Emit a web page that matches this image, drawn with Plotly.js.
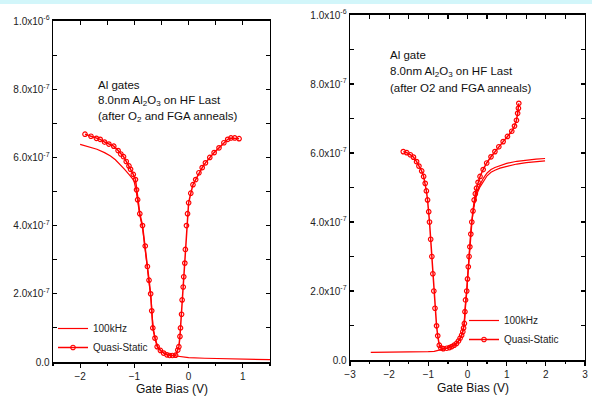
<!DOCTYPE html>
<html>
<head>
<meta charset="utf-8">
<script src="https://cdn.plot.ly/plotly-3.0.1.min.js"></script>
<style>html,body{margin:0;padding:0;background:#fff;}#chart{width:592px;height:398px;}</style>
</head>
<body>
<div id="chart"></div>
<script>
// Capacitance values are in units of 1e-7 F
// ---- Left panel: "Al gates" ----
const leftQsBias = [-1.91,-1.80,-1.70,-1.63,-1.55,-1.47,-1.38,-1.30,-1.25,-1.20,-1.15,-1.10,-1.07,-1.02,-0.98,-0.96,-0.94,-0.90,-0.85,-0.80,-0.76,-0.73,-0.70,-0.68,-0.66,-0.62,-0.58,-0.52,-0.46,-0.40,-0.35,-0.30,-0.24,-0.20,-0.18,-0.16,-0.15,-0.13,-0.12,-0.10,-0.09,-0.07,-0.06,-0.04,-0.02,0.00,0.04,0.08,0.13,0.19,0.25,0.31,0.39,0.47,0.56,0.65,0.72,0.78,0.85,0.93];
const leftQsCap  = [6.68,6.62,6.56,6.53,6.45,6.39,6.33,6.20,6.10,6.02,5.88,5.75,5.65,5.50,5.35,5.05,4.76,4.35,4.00,3.40,2.80,2.40,2.00,1.50,1.00,0.70,0.45,0.34,0.26,0.21,0.19,0.19,0.20,0.35,0.45,0.75,1.00,1.40,1.82,2.20,2.50,2.90,3.30,4.00,4.35,4.67,4.95,5.20,5.35,5.55,5.70,5.84,6.00,6.14,6.28,6.43,6.53,6.57,6.57,6.55];
const leftHfBias = [-2.00,-1.85,-1.69,-1.55,-1.44,-1.35,-1.26,-1.18,-1.10,-1.01,-0.97,-0.94,-0.90,-0.85,-0.80,-0.76,-0.72,-0.69,-0.67,-0.65,-0.61,-0.56,-0.50,-0.44,-0.38,-0.30,-0.20,0.00,0.30,0.60,1.00,1.30,1.50];
const leftHfCap  = [6.38,6.31,6.24,6.14,6.04,5.93,5.79,5.65,5.50,5.33,5.05,4.70,4.30,3.95,3.35,2.75,2.20,1.80,1.30,0.95,0.65,0.42,0.31,0.25,0.21,0.19,0.17,0.13,0.11,0.10,0.09,0.08,0.07];

// ---- Right panel: "Al gate" ----
const rightQsBias = [-1.64,-1.55,-1.46,-1.38,-1.30,-1.24,-1.17,-1.12,-1.08,-1.05,-1.02,-0.99,-0.97,-0.94,-0.91,-0.885,-0.86,-0.83,-0.79,-0.76,-0.72,-0.68,-0.62,-0.53,-0.46,-0.40,-0.34,-0.28,-0.23,-0.19,-0.15,-0.12,-0.10,-0.08,-0.065,-0.05,-0.02,0.00,0.02,0.04,0.06,0.085,0.11,0.14,0.17,0.20,0.23,0.27,0.32,0.40,0.49,0.60,0.70,0.80,0.91,1.02,1.13,1.20,1.25,1.28,1.30,1.31];
const rightQsCap  = [6.04,6.01,5.95,5.88,5.75,5.62,5.48,5.32,5.12,4.90,4.64,4.30,4.00,3.50,3.00,2.50,2.00,1.50,0.99,0.70,0.43,0.35,0.33,0.34,0.36,0.39,0.43,0.48,0.55,0.63,0.72,0.82,0.93,1.06,1.40,1.74,2.00,2.35,2.70,3.00,3.28,3.65,4.00,4.32,4.64,4.82,4.98,5.15,5.32,5.52,5.71,5.89,6.04,6.18,6.33,6.48,6.63,6.78,6.95,7.15,7.30,7.44];
const rightHfBias = [-2.47,-2.00,-1.50,-1.00,-0.85,-0.72,-0.62,-0.50,-0.40,-0.30,-0.20,-0.14,-0.10,-0.07,-0.045,-0.015,0.01,0.035,0.06,0.09,0.12,0.16,0.20,0.25,0.32,0.40,0.50,0.60,0.70,0.83,1.00,1.26,1.50,1.75,1.98];
const rightHfCap  = [0.22,0.22,0.23,0.24,0.25,0.28,0.31,0.35,0.40,0.47,0.58,0.75,0.95,1.25,1.74,2.00,2.50,3.00,3.40,3.80,4.10,4.50,4.72,4.92,5.10,5.26,5.42,5.52,5.58,5.64,5.70,5.76,5.80,5.82,5.84];
const rightHfRevBias = [1.98,1.75,1.50,1.26,1.00,0.83,0.70,0.60,0.50,0.40,0.32,0.25,0.20,0.16];
const rightHfRevCap  = [5.77,5.75,5.72,5.68,5.62,5.56,5.50,5.44,5.34,5.18,5.02,4.84,4.66,4.45];

const capTickVals = [0,2,4,6,8,10];
const capTickText = ['0.0','2.0x10<sup>-7</sup>','4.0x10<sup>-7</sup>','6.0x10<sup>-7</sup>','8.0x10<sup>-7</sup>','1.0x10<sup>-6</sup>'];
const capMinorVals = [1,3,5,7,9];
const leftBiasTicks = [-2,-1,0,1];
const rightBiasTicks = [-3,-2,-1,0,1,2,3];

const RED = 'rgb(255,0,0)';
const FONT = 'Liberation Sans, Arial, sans-serif';

function qs(x, y, xa, ya, leg) {
  return {x: x, y: y, xaxis: xa, yaxis: ya, type: 'scatter', mode: 'lines+markers', name: 'Quasi-Static',
    legend: leg, line: {color: RED, width: 1.5},
    marker: {symbol: 'circle-open', size: 4.5, color: RED, line: {color: RED, width: 1.2}}};
}
function hf(x, y, xa, ya, leg, show) {
  return {x: x, y: y, xaxis: xa, yaxis: ya, type: 'scatter', mode: 'lines', name: '100kHz',
    legend: leg, showlegend: show, line: {color: RED, width: 1.2}};
}

const traces = [
  hf(leftHfBias, leftHfCap, 'x', 'y', 'legend', true),
  qs(leftQsBias, leftQsCap, 'x', 'y', 'legend'),
  hf(rightHfBias, rightHfCap, 'x2', 'y2', 'legend2', true),
  hf(rightHfRevBias, rightHfRevCap, 'x2', 'y2', 'legend2', false),
  qs(rightQsBias, rightQsCap, 'x2', 'y2', 'legend2'),
  {x: [], y: [], xaxis: 'x3', yaxis: 'y', showlegend: false, type: 'scatter'},
  {x: [], y: [], xaxis: 'x4', yaxis: 'y2', showlegend: false, type: 'scatter'}
];

const tickFont = {family: FONT, size: 10, color: '#222'};
function xAxisBottom(dom, rng, vals, anchor) {
  return {domain: dom, range: rng, anchor: anchor, tickmode: 'array', tickvals: vals,
    ticks: 'outside', ticklen: 4, tickwidth: 1.2, tickcolor: '#000',
    minor: {dtick: 0.5, tick0: 0, ticks: 'outside', ticklen: 2.5, tickwidth: 1.2, tickcolor: '#000', showgrid: false},
    showline: true, linecolor: '#000', linewidth: 1.6, mirror: true,
    showgrid: false, zeroline: false, tickfont: tickFont, fixedrange: true};
}
function xAxisTop(rng, overlay, anchor) {
  return {range: rng, overlaying: overlay, anchor: anchor, side: 'top', tickmode: 'linear', tick0: 0, dtick: 0.5,
    ticks: 'inside', ticklen: 4, tickwidth: 1.2, tickcolor: '#000', showticklabels: false,
    showline: false, showgrid: false, zeroline: false};
}
function yAxis(dom, anchor) {
  return {domain: dom, range: [0, 10], anchor: anchor, tickmode: 'array', tickvals: capTickVals, ticktext: capTickText,
    ticks: 'inside', ticklen: 4, tickwidth: 1.2, tickcolor: '#000',
    minor: {tickmode: 'array', tickvals: capMinorVals, ticks: 'inside', ticklen: 3, tickwidth: 1.2, tickcolor: '#000', showgrid: false},
    showline: true, linecolor: '#000', linewidth: 1.4, mirror: 'allticks',
    showgrid: false, zeroline: false, tickfont: tickFont, fixedrange: true};
}

function txt(x, y, t) {
  return {xref: 'paper', yref: 'paper', x: x, y: y, xanchor: 'left', yanchor: 'middle', showarrow: false,
    text: t, font: {family: FONT, size: 11.5, color: '#111'}};
}

const layout = {
  width: 592, height: 398,
  margin: {l: 0, r: 0, t: 0, b: 0},
  paper_bgcolor: '#fff', plot_bgcolor: '#fff',
  font: {family: FONT, size: 10, color: '#222'},
  xaxis: xAxisBottom([53/592, 270/592], [-2.5, 1.5], leftBiasTicks, 'y'),
  yaxis: yAxis([1 - 362/398, 1 - 21/398], 'x'),
  xaxis2: xAxisBottom([350/592, 585/592], [-3, 3], rightBiasTicks, 'y2'),
  yaxis2: yAxis([1 - 360/398, 1 - 15/398], 'x2'),
  xaxis3: xAxisTop([-2.5, 1.5], 'x', 'y'),
  xaxis4: xAxisTop([-3, 3], 'x2', 'y2'),
  legend: {x: 53/592, y: 1 - 314/398, xanchor: 'left', yanchor: 'top', bgcolor: 'rgba(0,0,0,0)',
    font: {family: FONT, size: 10, color: '#222'}, tracegroupgap: 0},
  legend2: {x: 464/592, y: 1 - 306/398, xanchor: 'left', yanchor: 'top', bgcolor: 'rgba(0,0,0,0)',
    font: {family: FONT, size: 10, color: '#222'}, tracegroupgap: 0},
  shapes: [{type: 'rect', xref: 'paper', yref: 'paper', x0: 0, x1: 1, y0: 1 - 4/398, y1: 1,
    fillcolor: '#d2f6fa', line: {width: 0}, layer: 'below'}],
  annotations: [
    txt(96/592, 1 - 85/398, 'Al gates'),
    txt(96/592, 1 - 101/398, '8.0nm Al<sub>2</sub>O<sub>3</sub> on HF Last'),
    txt(96/592, 1 - 117/398, '(after O<sub>2</sub> and FGA anneals)'),
    txt(388/592, 1 - 55/398, 'Al gate'),
    txt(388/592, 1 - 72/398, '8.0nm Al<sub>2</sub>O<sub>3</sub> on HF Last'),
    txt(388/592, 1 - 88/398, '(after O2 and FGA anneals)'),
    {xref: 'paper', yref: 'paper', x: 172/592, y: 1 - 389/398, xanchor: 'center', yanchor: 'middle', showarrow: false,
      text: 'Gate Bias (V)', font: {family: FONT, size: 12, color: '#111'}},
    {xref: 'paper', yref: 'paper', x: 473/592, y: 1 - 388/398, xanchor: 'center', yanchor: 'middle', showarrow: false,
      text: 'Gate Bias (V)', font: {family: FONT, size: 12, color: '#111'}}
  ]
};

Plotly.newPlot('chart', traces, layout, {staticPlot: true, displayModeBar: false});
</script>
</body>
</html>
